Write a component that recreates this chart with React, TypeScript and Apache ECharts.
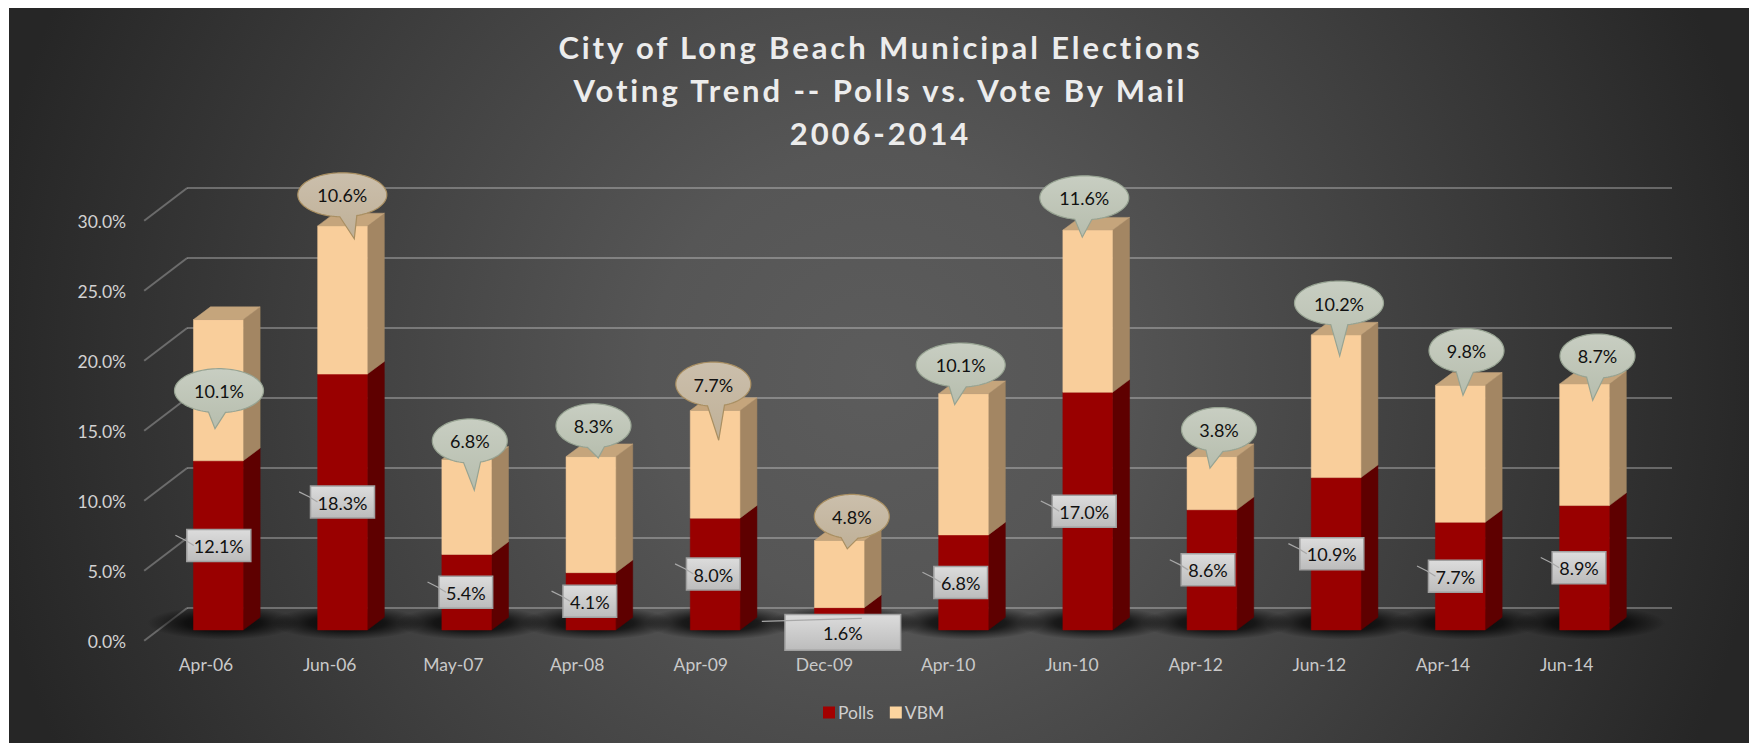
import React, { useEffect, useRef } from "react";
import * as echarts from "echarts";

const categories = ["Apr-06","Jun-06","May-07","Apr-08","Apr-09","Dec-09","Apr-10","Jun-10","Apr-12","Jun-12","Apr-14","Jun-14"];
const polls = [12.1,18.3,5.4,4.1,8.0,1.6,6.8,17.0,8.6,10.9,7.7,8.9];
const vbm = [10.1,10.6,6.8,8.3,7.7,4.8,10.1,11.6,3.8,10.2,9.8,8.7];
const ticks = [0,5,10,15,20,25,30];
const titleLines = ["City of Long Beach Municipal Elections","Voting Trend -- Polls vs. Vote By Mail","2006-2014"];

// Hand-placed annotation layout, as offsets from each bar
const bubbleOffsetX = [0.7,-0.2,3.1,2.6,-1.8,12.5,-2.8,-3.4,7.1,2.9,6.2,13];
const bubbleOffsetY = [71.1,-31.1,-18.5,-30.9,-26.4,-24.1,-28.7,-32.3,-27.1,-31.9,-34.7,-27.9];
const tailTipX = [-4,12,4.5,4.8,5.4,-4.5,-6,-2,-9,0.7,-3.5,-4.8];
const tailTipY = [38,44,49.3,32.2,56.2,32.4,39.6,39.4,38.7,53,44.7,44.3];
const tanBubbles = [1,4,5];
const boxOffsetX = [0.5,0,-0.9,-1.1,-1.8,3.5,-2.8,-3.5,-3.9,-4.3,-5,-5.5];
const boxOffsetY = [0,0,0,0,0,13.6,0,0,0,0,0,0];
const wideBoxes = [5];

const FONT = "Lato, Carlito, Calibri, sans-serif";
const DEPTH_X = 17;
const DEPTH_Y = 12.7;
const W = 1749;
const H = 743;
const GRID_LINE = "rgba(255,255,255,0.28)";
const pct = (v: number) => v.toFixed(1) + "%";
const vGrad = (a: string, b: string) =>
  new echarts.graphic.LinearGradient(0, 0, 0, 1, [{ offset: 0, color: a }, { offset: 1, color: b }]);

function barShape(api: any, front: string, side: string, top: string | null) {
  const i = api.value(0);
  const base = api.coord([i, api.value(1)]);
  const end = api.coord([i, api.value(2)]);
  const bw = api.size([1, 0])[0] * 0.4;
  const L = base[0] - bw / 2;
  const R = base[0] + bw / 2;
  const yb = base[1];
  const yt = end[1];
  const children: any[] = [
    { type: "polygon", shape: { points: [[R, yb], [R + DEPTH_X, yb - DEPTH_Y], [R + DEPTH_X, yt - DEPTH_Y], [R, yt]] }, style: { fill: side, stroke: side, lineWidth: 0.5 } },
    { type: "rect", shape: { x: L, y: yt, width: bw, height: yb - yt }, style: { fill: front, stroke: front, lineWidth: 0.5 } },
  ];
  if (top) {
    children.push({ type: "polygon", shape: { points: [[L, yt], [L + DEPTH_X, yt - DEPTH_Y], [R + DEPTH_X, yt - DEPTH_Y], [R, yt]] }, style: { fill: top, stroke: top, lineWidth: 0.5 } });
  }
  return { type: "group", children };
}

function bubblePoints(cx: number, cy: number, rx: number, ry: number, tipX: number, tipY: number) {
  const baseC = tipX * 0.5;
  const half = 8.5;
  const angle = (dx: number) => {
    const c = Math.max(-1, Math.min(1, dx / rx));
    return Math.acos(c);
  };
  const a1 = angle(baseC + half);
  const a2 = angle(baseC - half);
  const pts: number[][] = [];
  const n = 96;
  for (let k = 0; k <= n; k++) {
    const t = a2 + ((Math.PI * 2 - (a2 - a1)) * k) / n;
    pts.push([cx + rx * Math.cos(t), cy + ry * Math.sin(t)]);
  }
  pts.push([cx + tipX, cy + tipY]);
  return pts;
}

export default function App() {
  const ref = useRef<HTMLDivElement>(null);
  useEffect(() => {
    const chart = echarts.init(ref.current!, null, { renderer: "svg" });
    const hiddenY = { type: "value", min: 0, max: 30, interval: 5, axisLabel: { show: false }, axisLine: { show: false }, axisTick: { show: false }, splitLine: { show: false } };
    const hiddenX = { type: "category", data: categories, axisLabel: { show: false }, axisLine: { show: false }, axisTick: { show: false }, splitLine: { show: false } };
    chart.setOption({
      animation: false,
      title: {
        text: titleLines.join("\n"),
        left: 875.5,
        top: 20,
        textAlign: "center",
        textStyle: { color: "#ececec", fontFamily: FONT, fontWeight: "bold", fontSize: 31, lineHeight: 43 },
      },
      legend: {
        left: 818,
        top: 698.5,
        itemWidth: 12,
        itemHeight: 12,
        itemGap: 16,
        icon: "rect",
        data: ["Polls", "VBM"],
        textStyle: { color: "#cfcfcf", fontFamily: FONT, fontSize: 17.5, padding: [0, 0, 0, -2] },
      },
      graphic: {
        elements: [
          {
            type: "rect",
            z: -10,
            silent: true,
            shape: { x: 9, y: 8, width: W - 9, height: H - 8 },
            style: {
              fill: new echarts.graphic.RadialGradient(875, 375, 900, [
                { offset: 0, color: "#5c5c5c" },
                { offset: 0.25, color: "#565656" },
                { offset: 0.6, color: "#404040" },
                { offset: 1, color: "#262626" },
              ], true),
            },
          },
        ],
      },
      grid: [
        { left: 144.15, width: 1484.4, top: 221.7, height: 420, show: false },
        { left: 187, width: 1485, top: 188, height: 420, show: false },
        { left: 156.2, width: 1490.4, top: 210.5, height: 419.5, show: false },
      ],
      xAxis: [
        { type: "category", data: categories, gridIndex: 0, axisLine: { show: false }, axisTick: { show: false }, axisLabel: { color: "#c9c9c9", fontFamily: FONT, fontSize: 17.5, margin: 14, interval: 0 } },
        { ...hiddenX, gridIndex: 1 },
        { ...hiddenX, gridIndex: 2 },
      ],
      yAxis: [
        { type: "value", gridIndex: 0, min: 0, max: 30, interval: 5, axisLine: { show: false }, axisTick: { show: false }, splitLine: { show: false }, axisLabel: { color: "#d2d2d2", fontFamily: FONT, fontSize: 17.5, margin: 18, formatter: (v: number) => pct(v) } },
        { ...hiddenY, gridIndex: 1, splitLine: { show: true, lineStyle: { color: GRID_LINE, width: 2 } } },
        { ...hiddenY, gridIndex: 2 },
      ],
      series: [
        {
          type: "custom", name: "wall", xAxisIndex: 0, yAxisIndex: 0, z: 1, silent: true,
          data: ticks.map((t) => [0, t]),
          encode: { x: 0, y: 1 },
          renderItem: (params: any, api: any) => {
            const y = api.coord([0, api.value(1)])[1] - 1;
            const x = params.coordSys.x;
            return { type: "line", shape: { x1: x, y1: y, x2: x + 43, y2: y - 32.7 }, style: { stroke: GRID_LINE, lineWidth: 2 } };
          },
        },
        {
          type: "custom", name: "shadow", xAxisIndex: 2, yAxisIndex: 2, z: 2, silent: true,
          data: categories.map((_, i) => [i, 0]),
          encode: { x: 0, y: 1 },
          renderItem: (_: any, api: any) => {
            const [cx, yb] = api.coord([api.value(0), 0]);
            return {
              type: "circle",
              x: cx + 5,
              y: yb - 7,
              scaleY: 0.22,
              shape: { cx: 0, cy: 0, r: 76 },
              style: {
                fill: new echarts.graphic.RadialGradient(0.5, 0.5, 0.5, [
                  { offset: 0, color: "rgba(0,0,0,0.9)" },
                  { offset: 0.5, color: "rgba(0,0,0,0.68)" },
                  { offset: 1, color: "rgba(0,0,0,0)" },
                ]),
              },
            };
          },
        },
        {
          type: "custom", name: "Polls", xAxisIndex: 2, yAxisIndex: 2, z: 3, silent: true,
          itemStyle: { color: "#a30000" },
          data: polls.map((v, i) => [i, 0, v]),
          encode: { x: 0, y: [1, 2] },
          renderItem: (_: any, api: any) => barShape(api, "#990000", "#5e0000", null),
        },
        {
          type: "custom", name: "VBM", xAxisIndex: 2, yAxisIndex: 2, z: 4, silent: true,
          itemStyle: { color: "#fdd59f" },
          data: vbm.map((v, i) => [i, polls[i], polls[i] + v]),
          encode: { x: 0, y: [1, 2] },
          renderItem: (_: any, api: any) => barShape(api, "#f9ce9b", "#a38663", "#c5a57c"),
        },
        {
          type: "custom", name: "pollLabels", xAxisIndex: 2, yAxisIndex: 2, z: 5, silent: true,
          data: polls.map((v, i) => [i, v / 2, v]),
          encode: { x: 0, y: 1 },
          renderItem: (params: any, api: any) => {
            const i = api.value(0);
            const p = api.coord([i, api.value(1)]);
            const txt = pct(api.value(2));
            const wide = wideBoxes.includes(i);
            const w = wide ? 115.7 : txt.length > 4 ? 64 : 53.7;
            const h = wide ? 35.7 : 32;
            const cx = p[0] + boxOffsetX[i];
            const cy = p[1] + boxOffsetY[i];
            const lead = wide
              ? [[cx - 81, cy - 11], [cx + 19, cy - 14]]
              : [[cx - w / 2 - 11.4, cy - 10.2], [cx - w / 2 - 1, cy - 5], [cx - w / 2 + 7, cy]];
            return {
              type: "group",
              children: [
                { type: "rect", shape: { x: cx - w / 2, y: cy - h / 2, width: w, height: h }, style: { fill: vGrad("#dcdcdc", "#bcbcbc"), stroke: "#a0a0a0", lineWidth: 1.5 } },
                { type: "polyline", shape: { points: lead }, style: { fill: "none", stroke: "#a8a8a8", lineWidth: 1.2 } },
                { type: "text", style: { x: cx, y: cy + 0.5, text: txt, align: "center", verticalAlign: "middle", fill: "#111", fontFamily: FONT, fontSize: 18 } },
              ],
            };
          },
        },
        {
          type: "custom", name: "vbmLabels", xAxisIndex: 2, yAxisIndex: 2, z: 6, silent: true,
          data: vbm.map((v, i) => [i, polls[i] + v, v]),
          encode: { x: 0, y: 1 },
          renderItem: (params: any, api: any) => {
            const i = api.value(0);
            const p = api.coord([i, api.value(1)]);
            const txt = pct(api.value(2));
            const rx = txt.length > 4 ? 44.5 : 37.5;
            const ry = 22;
            const cx = p[0] + bubbleOffsetX[i];
            const cy = p[1] + bubbleOffsetY[i];
            const tan = tanBubbles.includes(i);
            return {
              type: "group",
              children: [
                {
                  type: "polygon",
                  shape: { points: bubblePoints(cx, cy, rx, ry, tailTipX[i], tailTipY[i]) },
                  style: {
                    fill: tan ? vGrad("#cbbfac", "#bfb097") : vGrad("#c8cec2", "#b6bdad"),
                    stroke: tan ? "#a98f62" : "#97a392",
                    lineWidth: 1.2,
                  },
                },
                { type: "text", style: { x: cx, y: cy + 0.5, text: txt, align: "center", verticalAlign: "middle", fill: "#111", fontFamily: FONT, fontSize: 18 } },
              ],
            };
          },
        },
      ],
    });
    const root = chart.getDom();
    root.querySelectorAll("text").forEach((t) => {
      if (titleLines.includes((t.textContent || "").trim())) (t as SVGTextElement).style.letterSpacing = "2.9px";
    });
    return () => chart.dispose();
  }, []);
  return <div ref={ref} style={{ position: "absolute", left: 0, top: 0, width: W, height: H }} />;
}
